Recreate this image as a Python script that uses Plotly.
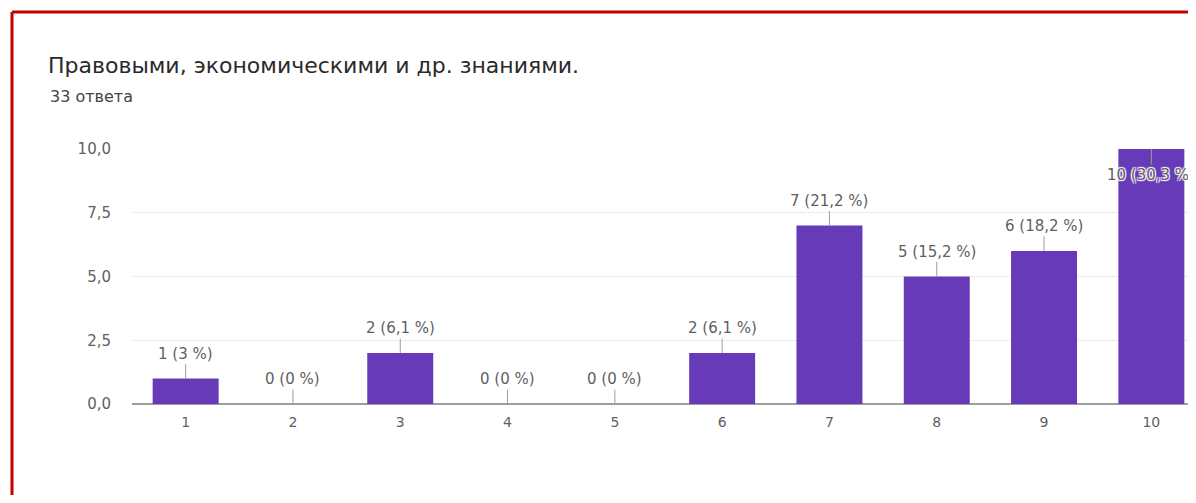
import plotly.graph_objects as go

# survey answers: rating 1..10 and how many people picked it
categories = ['1', '2', '3', '4', '5', '6', '7', '8', '9', '10']
counts = [1, 0, 2, 0, 0, 2, 7, 5, 6, 10]
total = 33
y_ticks = [0, 2.5, 5, 7.5, 10]

title_text = 'Правовыми, экономическими и др. знаниями.'
subtitle_text = '33 ответа'

PURPLE = '#673ab7'
GREY = '#5f5f5f'
FONT = 'DejaVu Sans, Arial'

# the page body has an 8px margin, so figure coords = page coords - 8
OFF = 8
FIG_W, FIG_H = 1196 - 2 * OFF, 503 - 2 * OFF
PLOT_L, PLOT_T, PLOT_B = 132, 149, 404   # page pixels
PLOT_W = FIG_W - (PLOT_L - OFF)
PLOT_H = PLOT_B - PLOT_T
STEP = 107.3   # px per category in the reference


def pct_label(n):
    """Label like Google Forms: '2 (6,1 %)'"""
    p = f'{100.0 * n / total:.1f}'
    if p.endswith('.0'):
        p = p[:-2]
    return f'{n} ({p.replace(".", ",")} %)'


fig = go.Figure()
fig.add_trace(go.Bar(x=categories, y=counts, marker_color=PURPLE,
                     marker_line_width=0, width=0.615, hoverinfo='skip'))

halo = '1px 1px 1px #fff, -1px -1px 1px #fff, 1px -1px 1px #fff, -1px 1px 1px #fff'
for i, n in enumerate(counts):
    # the top bar has no room above, label goes inside it
    inside = n >= max(counts)
    fig.add_annotation(x=i, y=n, text=pct_label(n), showarrow=True,
                       arrowhead=0, arrowwidth=1, arrowcolor='#9e9e9e',
                       ax=0, ay=26 if inside else -25, standoff=0,
                       font=dict(family=FONT, size=15, color=GREY,
                                 shadow=halo))

fig.update_layout(
    width=FIG_W, height=FIG_H,
    margin=dict(l=PLOT_L - OFF, r=0, t=PLOT_T - OFF, b=FIG_H - (PLOT_B - OFF)),
    paper_bgcolor='white', plot_bgcolor='white',
    separators=',.',
    showlegend=False,
    title=dict(text=title_text, xref='container', yref='container',
               x=(48 - OFF) / FIG_W, xanchor='left', y=1 - (65 - OFF) / FIG_H,
               yanchor='middle',
               font=dict(family=FONT, size=22, color='#2a2a2a')),
    font=dict(family=FONT, color=GREY),
)
fig.add_annotation(text=subtitle_text, xref='paper', yref='paper',
                   x=(48 - PLOT_L) / PLOT_W, y=(PLOT_B - 96) / PLOT_H,
                   xanchor='left', yanchor='middle', showarrow=False,
                   font=dict(family=FONT, size=16, color='#444444'))

# red frame of the screenshot: only left and top edges are visible
frame_x = (12 - PLOT_L) / PLOT_W
frame_y = (PLOT_B - 12) / PLOT_H
red = dict(color='#c40000', width=3)
fig.add_shape(type='line', xref='paper', yref='paper', x0=frame_x, x1=frame_x,
              y0=-0.6, y1=frame_y, line=red, layer='above')
fig.add_shape(type='line', xref='paper', yref='paper', x0=frame_x, x1=1.0,
              y0=frame_y, y1=frame_y, line=dict(color='#c40000', width=3),
              layer='above')

fig.update_xaxes(range=[-0.5, -0.5 + PLOT_W / STEP], showgrid=False,
                 zeroline=False, showline=False, ticks='', ticklabelstandoff=8,
                 tickfont=dict(family=FONT, size=14, color=GREY))
fig.update_yaxes(range=[0, 10], tickvals=y_ticks, tickformat='.1f',
                 showgrid=True, gridcolor='#ececec', gridwidth=1,
                 zeroline=True, zerolinecolor='#9e9e9e', zerolinewidth=2,
                 ticks='', ticklabelstandoff=20,
                 tickfont=dict(family=FONT, size=15, color=GREY))

fig.write_html('out.html')
